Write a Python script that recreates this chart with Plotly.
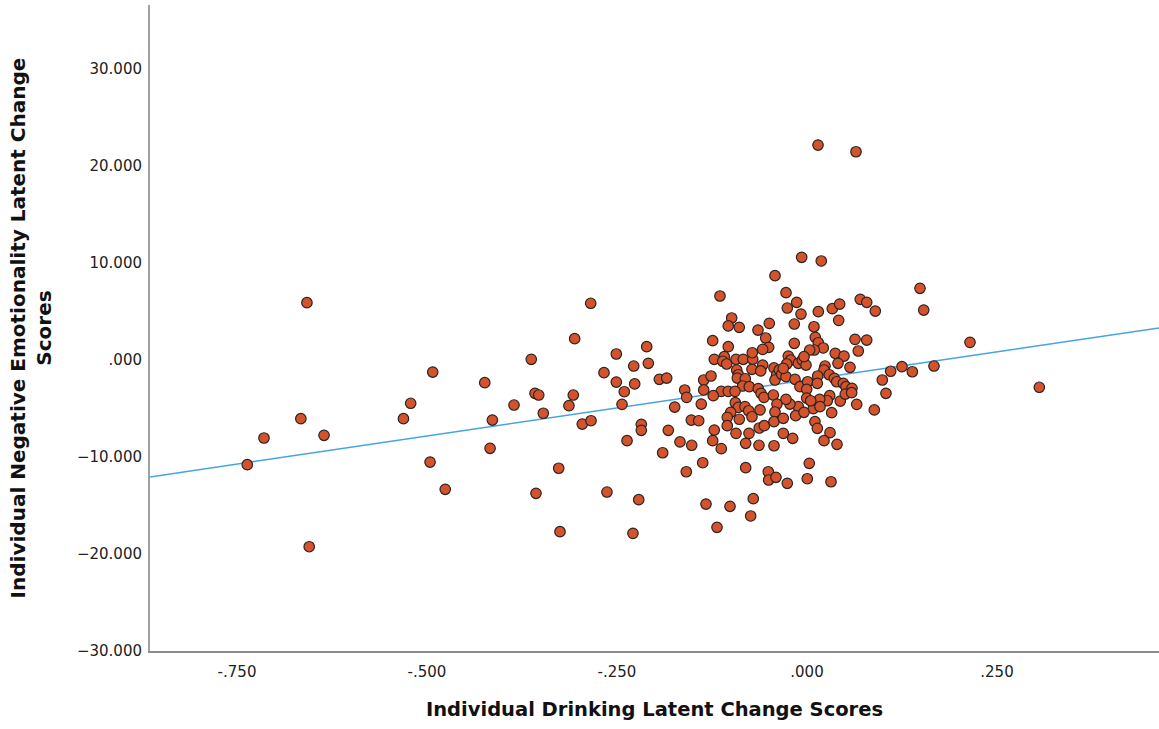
import plotly.graph_objects as go

# Individual drinking latent change scores (x) and negative emotionality latent change scores (y)
drinking = [
    -0.658, -0.4925, -0.424, -0.5215, -0.531, -0.666, -0.7145, -0.6355, -0.414, -0.417,
    -0.7365, -0.496, -0.476, -0.655, -0.2846, -0.3057, -0.3628, -0.2509, -0.2109, -0.228,
    -0.2088, -0.2671, -0.2509, -0.2267, -0.2404, -0.1943, -0.1846, -0.3579, -0.353, -0.3075,
    -0.3855, -0.3132, -0.2434, -0.347, -0.2957, -0.2842, -0.218, -0.218, -0.2368, -0.1825,
    -0.1741, -0.1899, -0.3267, -0.3566, -0.2632, -0.2214, -0.325, -0.229,
    -0.1145, -0.0421, -0.1609, -0.1583, -0.1359, -0.1359, -0.1263, -0.1391, -0.1522, -0.1425,
    -0.1671, -0.1517, -0.122, -0.1241, -0.1128, -0.1372, -0.1588, -0.1329, -0.1013, -0.0707,
    -0.0741, -0.1184, -0.0807, -0.0509, -0.0504, -0.0408, -0.1241, -0.0991, -0.1036, -0.0891,
    -0.0645, -0.0496, -0.0543, -0.0504, -0.0583, -0.1036, -0.122, -0.1088, -0.1109, -0.1057,
    -0.0934, -0.0838, -0.0714, -0.072, -0.0583, -0.0724, -0.0609, -0.0925, -0.0904, -0.0917,
    -0.0812, -0.0846, -0.0759, -0.1128, -0.1036, -0.0947, -0.0641, -0.0605, -0.0566, -0.0434,
    -0.0399, -0.0421, -0.0443, -0.0943, -0.0904, -0.1004, -0.0816, -0.0767, -0.0618, -0.0395,
    -0.0421, -0.1049, -0.1049, -0.0891, -0.0724, -0.0628, -0.0562, -0.0934, -0.0763, -0.0807,
    -0.0632, -0.0434, -0.0434, -0.1233,
    -0.007, 0.0188, 0.0145, 0.0645, -0.0276, -0.0136, -0.0259, -0.0079, 0.0149, 0.0333,
    0.043, 0.0417, 0.0701, 0.0786, 0.0899, 0.1487, 0.1536, -0.0167, 0.0092, -0.0167,
    0.0109, 0.0149, 0.0214, 0.0096, 0.0036, 0.0632, 0.0786, 0.0675, 0.0372, 0.0487,
    0.0408, 0.0566, -0.0246, -0.0214, -0.0267, -0.0114, -0.0062, -0.0013, -0.0039, 0.0237,
    0.0224, -0.0364, -0.0333, -0.0276, -0.0312, -0.0158, -0.0092, 0.0009, -0.0004, 0.0141,
    0.0136, 0.0293, 0.0359, 0.0391, 0.0478, 0.0513, 0.0592, 0.0991, 0.1101, 0.125,
    0.1386, 0.1671, 0.1039, 0.0886, 0.0654, 0.0438, 0.0504, 0.0588, 0.0299, 0.0267,
    0.0167, 0.0083, 0.0171, -0.0004, 0.0049, -0.0114, -0.0149, -0.0039, -0.0224, -0.0276,
    -0.0312, 0.0105, 0.0136, 0.0325, 0.0303, 0.0224, 0.0395, -0.0188, -0.0312, -0.0259,
    0.003, 0.0004, 0.0316, 0.2145, 0.3057,
]
emotionality = [
    5.91, -1.24, -2.34, -4.46, -6.05, -6.05, -8.04, -7.76, -6.19, -9.10,
    -10.79, -10.52, -13.33, -19.25, 5.85, 2.20, 0.07, 0.62, 1.37, -0.62,
    -0.34, -1.31, -2.27, -2.47, -3.27, -1.99, -1.86, -3.43, -3.61, -3.61,
    -4.64, -4.71, -4.57, -5.49, -6.60, -6.26, -6.63, -7.25, -8.32, -7.25,
    -4.85, -9.56, -11.16, -13.74, -13.61, -14.40, -17.70, -17.87,
    6.60, 8.69, -3.09, -3.85, -2.06, -3.09, -1.65, -4.54, -6.19, -6.26,
    -8.45, -8.79, -7.22, -8.32, -9.14, -10.59, -11.52, -14.85, -15.08, -14.30,
    -16.08, -17.25, -11.10, -11.52, -12.37, -12.09, 1.99, 4.33, 3.51, 3.37,
    3.09, 3.78, 2.27, 1.31, 1.10, 1.37, 0.07, 0.34, -0.13, -0.41,
    0.07, 0.07, 0.07, 0.75, -0.52, -0.96, -1.13, -1.03, -1.52, -1.86,
    -1.93, -2.68, -2.75, -3.23, -3.23, -3.23, -2.96, -3.43, -3.85, -0.82,
    -1.55, -2.06, -3.61, -4.40, -4.88, -5.39, -4.81, -5.23, -5.15, -4.54,
    -5.36, -5.91, -6.77, -6.11, -5.85, -7.01, -6.77, -7.56, -7.56, -8.59,
    -8.79, -8.84, -6.36, -3.68,
    10.59, 10.21, 22.16, 21.47, 6.94, 5.95, 5.36, 4.74, 4.98, 5.29,
    5.77, 4.09, 6.26, 5.95, 5.05, 7.39, 5.15, 3.71, 3.43, 1.72,
    2.34, 1.78, 1.24, 1.03, 1.03, 2.13, 2.06, 0.93, 0.69, 0.41,
    -0.34, -0.75, 0.41, 0.00, -0.41, -0.34, 0.00, -0.52, 0.34, -0.62,
    -1.03, -1.03, -1.47, -1.72, -0.86, -1.99, -2.75, -2.24, -3.02, -1.65,
    -2.40, -1.52, -1.89, -2.24, -2.40, -2.75, -2.92, -2.06, -1.16, -0.69,
    -1.21, -0.62, -3.43, -5.15, -4.57, -4.23, -3.51, -3.37, -3.68, -4.20,
    -4.05, -5.02, -4.81, -3.92, -4.20, -4.81, -5.74, -5.39, -4.54, -4.05,
    -6.01, -6.36, -7.04, -5.43, -7.49, -8.32, -8.69, -8.07, -7.56, -12.71,
    -10.65, -12.24, -12.55, 1.82, -2.81,
]

# Fit line
fit_intercept = -2.05
fit_slope = 11.57

x_range = [-0.8645, 0.4632]
y_range = [-30.0, 36.6]

x_tickvals = [-0.75, -0.5, -0.25, 0.0, 0.25]
x_ticktext = ["-.750", "-.500", "-.250", ".000", ".250"]
y_tickvals = [-30, -20, -10, 0, 10, 20, 30]
y_ticktext = ["\u221230.000", "\u221220.000", "\u221210.000", ".000", "10.000", "20.000", "30.000"]

fig = go.Figure()

fig.add_trace(go.Scatter(
    x=x_range,
    y=[fit_intercept + fit_slope * v for v in x_range],
    mode="lines",
    line=dict(color="#45a3e6", width=1.5),
    hoverinfo="skip",
    showlegend=False,
))

fig.add_trace(go.Scatter(
    x=drinking,
    y=emotionality,
    mode="markers",
    marker=dict(size=10.5, color="#d4532c", line=dict(color="#2b2420", width=1.2)),
    showlegend=False,
))

fig.update_layout(
    width=1159,
    height=729,
    paper_bgcolor="white",
    plot_bgcolor="white",
    margin=dict(l=150, r=0, t=5, b=78),
    font=dict(family="DejaVu Sans", color="#000000"),
    xaxis=dict(
        range=x_range,
        tickvals=x_tickvals,
        ticktext=x_ticktext,
        showgrid=False,
        zeroline=False,
        showline=True,
        linecolor="#8c8c8c",
        linewidth=2,
        ticks="outside",
        ticklen=6,
        tickcolor="rgba(0,0,0,0)",
        tickfont=dict(size=15, color="#222222"),
        title=dict(
            text="<b>Individual Drinking Latent Change Scores</b>",
            font=dict(size=19.5, color="#111111"),
            standoff=22,
        ),
    ),
    yaxis=dict(
        range=y_range,
        tickvals=y_tickvals,
        ticktext=y_ticktext,
        showgrid=False,
        zeroline=False,
        showline=True,
        linecolor="#a0a0a0",
        linewidth=2,
        ticks="outside",
        ticklen=3,
        tickcolor="rgba(0,0,0,0)",
        tickfont=dict(size=15, color="#222222"),
        title=dict(
            text="<b>Individual Negative Emotionality Latent Change<br>Scores</b>",
            font=dict(size=20, color="#111111"),
            standoff=20,
        ),
    ),
)

fig.write_html(
    "out.html",
    config={"displayModeBar": False},
    post_script="document.body.style.margin='0';",
)
